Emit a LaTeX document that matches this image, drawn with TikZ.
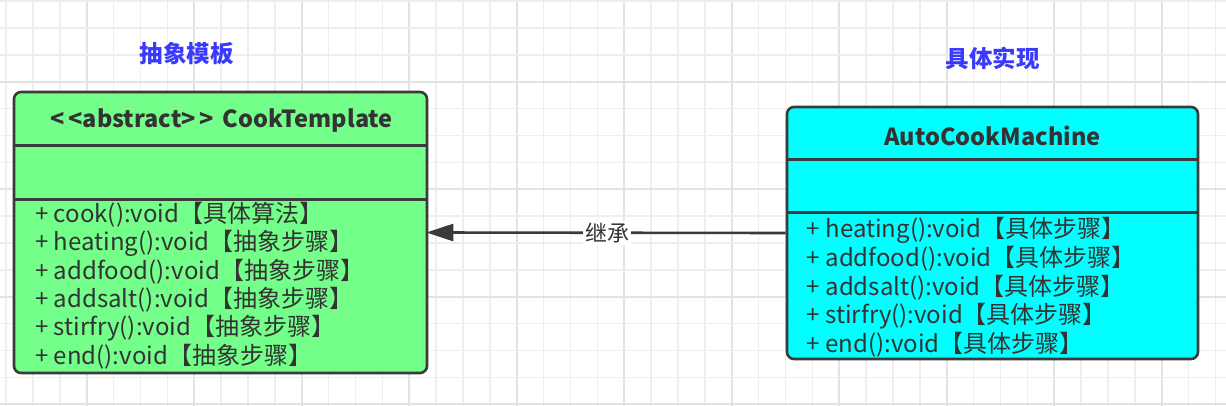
\documentclass[tikz,border=0pt]{standalone}
\usepackage{fontspec}
\newfontfamily\cjk{Noto Sans CJK SC}
\usetikzlibrary{arrows.meta}
\definecolor{gridminor}{HTML}{EEEEEE}
\definecolor{gridmajor}{HTML}{E3E3E3}
\definecolor{boxgreen}{HTML}{73FF8A}
\definecolor{boxcyan}{HTML}{00FFFF}
\definecolor{edge}{HTML}{3A3A3A}
\definecolor{txt}{HTML}{333333}
\definecolor{titleblue}{HTML}{3A3AFF}
\begin{document}
\begin{tikzpicture}[x=1pt,y=-1pt,
  umlbox/.style={draw=edge,line width=2.6pt,rounded corners=7pt,inner sep=0pt},
  sep/.style={draw=edge,line width=2.6pt},
  method/.style={anchor=west,inner sep=0pt,text=txt,font=\cjk\fontsize{24}{24}\selectfont},
  header/.style={inner sep=0pt,text=txt,font=\cjk\bfseries\fontsize{23.5}{24}\selectfont},
  title/.style={inner sep=0pt,text=titleblue,font=\cjk\bfseries\fontsize{23.5}{24}\selectfont},
  inherit/.style={draw=edge,line width=2.6pt,-{Triangle[length=27pt,width=17pt]}},
  lbl/.style={fill=white,inner sep=2pt,text=txt,font=\cjk\fontsize{22}{22}\selectfont}
]
\useasboundingbox[fill=white] (0,0) rectangle (1226,406);
\foreach \k in {0,...,45} {
  \pgfmathsetmacro\xx{6.1+\k*26.875}
  \pgfmathtruncatemacro\mm{mod(\k,4)}
  \ifnum\mm=3
    \draw[gridmajor,line width=1.6pt] (\xx,0) -- (\xx,406);
  \else
    \draw[gridminor,line width=1.6pt] (\xx,0) -- (\xx,406);
  \fi
}
\foreach \k in {0,...,15} {
  \pgfmathsetmacro\yy{1.1+\k*26.875}
  \pgfmathtruncatemacro\mm{mod(\k,4)}
  \ifnum\mm=3
    \draw[gridmajor,line width=1.6pt] (0,\yy) -- (1226,\yy);
  \else
    \draw[gridminor,line width=1.6pt] (0,\yy) -- (1226,\yy);
  \fi
}

% titles
\node[title] (t1) at (186.7,53.3) {抽象模板};
\node[title] (t2) at (992.5,58.3) {具体实现};

% left box
\node[umlbox,fill=boxgreen,minimum width=413pt,minimum height=281pt] (L) at (220.5,232.5) {};
\draw[sep] ([yshift=-55pt]L.north west) -- ([yshift=-55pt]L.north east);
\draw[sep] ([yshift=-109pt]L.north west) -- ([yshift=-109pt]L.north east);
\node[header] (Lh) at (221.5,120.7) {<\kern4pt<abstract>\kern4pt>\kern3pt\ CookTemplate};
\node[method] (L1) at (35,215) {+ cook():void【具体算法】};
\node[method] (L2) at (35,243.3) {+ heating():void【抽象步骤】};
\node[method] (L3) at (35,271.7) {+ addfood():void【抽象步骤】};
\node[method] (L4) at (35,300) {+ addsalt():void【抽象步骤】};
\node[method] (L5) at (35,328.3) {+ stirfry():void【抽象步骤】};
\node[method] (L6) at (35,356.7) {+ end():void【抽象步骤】};

% right box
\node[umlbox,fill=boxcyan,minimum width=411pt,minimum height=252pt] (R) at (992.5,233) {};
\draw[sep] ([yshift=-54pt]R.north west) -- ([yshift=-54pt]R.north east);
\draw[sep] ([yshift=-107pt]R.north west) -- ([yshift=-107pt]R.north east);
\node[header] (Rh) at (992.5,136) {AutoCookMachine};
\node[method] (R1) at (806.7,230) {+ heating():void【具体步骤】};
\node[method] (R2) at (806.7,258.7) {+ addfood():void【具体步骤】};
\node[method] (R3) at (806.7,287.4) {+ addsalt():void【具体步骤】};
\node[method] (R4) at (806.7,316.1) {+ stirfry():void【具体步骤】};
\node[method] (R5) at (806.7,344.8) {+ end():void【具体步骤】};

% inheritance
\draw[inherit,shorten >=-2pt] (R.west) -- node[lbl] {继承} (L.east);
\end{tikzpicture}
\end{document}
